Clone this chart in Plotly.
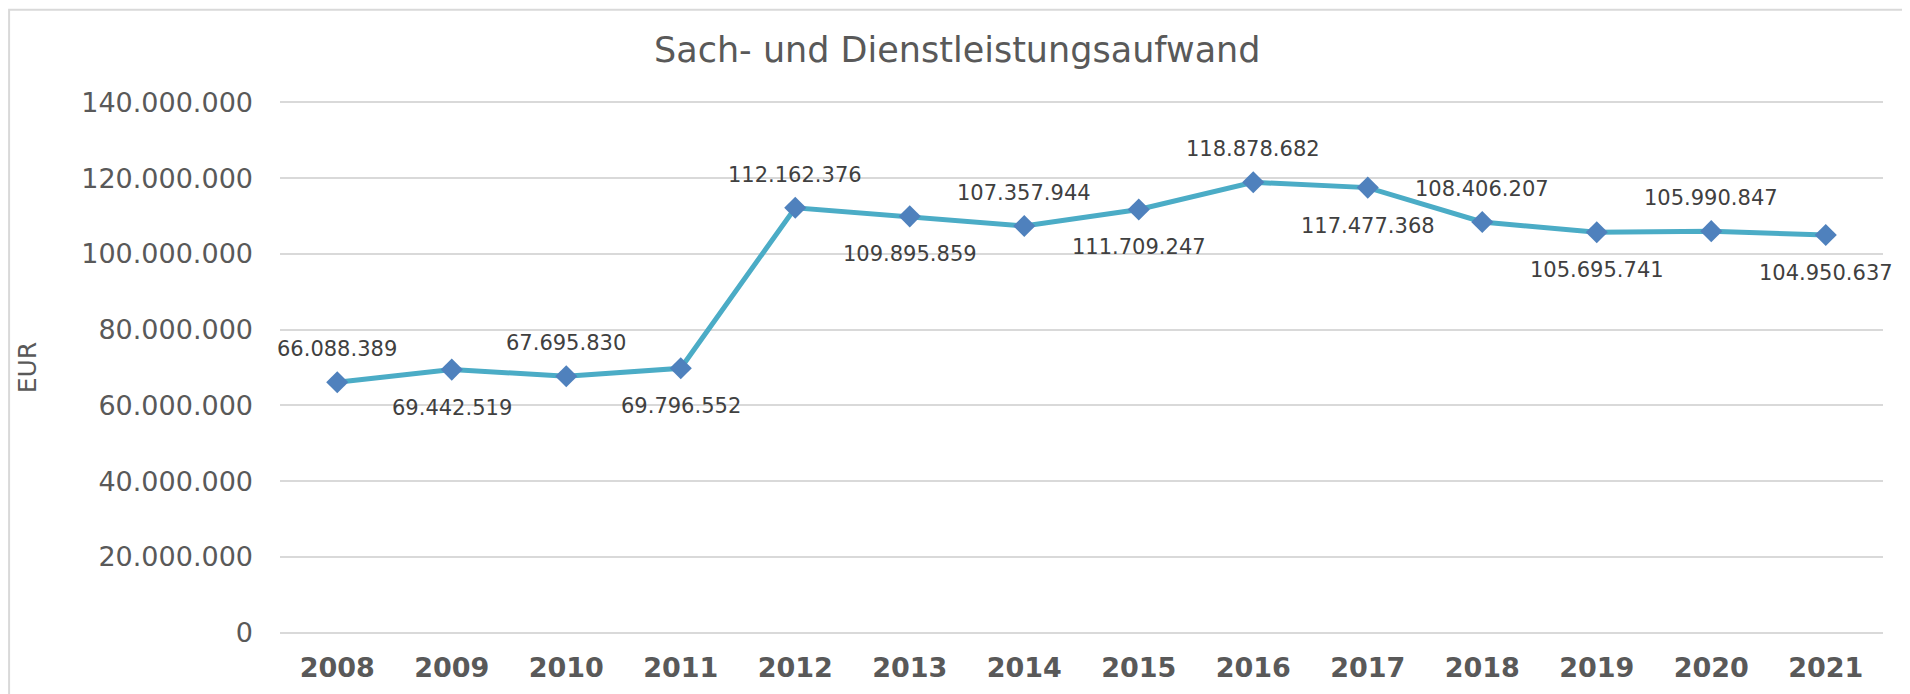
import plotly.graph_objects as go

years = ["2008", "2009", "2010", "2011", "2012", "2013", "2014",
         "2015", "2016", "2017", "2018", "2019", "2020", "2021"]
aufwand = [66088389, 69442519, 67695830, 69796552, 112162376, 109895859,
           107357944, 111709247, 118878682, 117477368, 108406207,
           105695741, 105990847, 104950637]
# label above (1) or below (-1) the point, as in the original
label_side = [1, -1, 1, -1, 1, -1, 1, -1, 1, -1, 1, -1, 1, -1]
y_ticks = [0, 20000000, 40000000, 60000000, 80000000, 100000000,
           120000000, 140000000]

GREY = "#595959"
FONT = "DejaVu Sans"


def fmt_de(v):
    """Format an int with dots as thousands separator (German style)."""
    return f"{v:,}".replace(",", ".")


fig = go.Figure()
fig.add_trace(go.Scatter(
    x=years, y=aufwand, mode="lines+markers",
    line=dict(color="#4BACC6", width=5),
    marker=dict(symbol="diamond", size=17, color="#4F81BD"),
    cliponaxis=False, showlegend=False,
))

# data labels, alternating above / below the markers
# (x given as category index, numeric-looking strings would be cast)
for i, (val, side) in enumerate(zip(aufwand, label_side)):
    fig.add_annotation(
        x=i, y=val, text=fmt_de(val), showarrow=False,
        yshift=33 if side > 0 else -38,
        font=dict(family=FONT, size=21, color="#404040"),
    )

# light frame round the chart (left and top edges visible)
fig.add_shape(type="rect", xref="paper", yref="paper",
              x0=-0.169, x1=1.2, y0=-0.3, y1=1.1685,
              line=dict(color="#D9D9D9", width=2), layer="below")

fig.update_layout(
    width=1910, height=694,
    margin=dict(l=272, r=35, t=92, b=67),
    paper_bgcolor="white", plot_bgcolor="white",
    title=dict(text="Sach- und Dienstleistungsaufwand", x=0.497,
               xanchor="center", y=0.94, yanchor="middle",
               font=dict(family=FONT, size=35, color=GREY)),
)
fig.update_xaxes(
    type="category", range=[-0.5, 13.5], showgrid=False, showline=False,
    ticks="", ticklabelstandoff=14,
    tickfont=dict(family=FONT, size=27, color=GREY, weight="bold"),
)
# range padded a little so the 0 and 140 Mio gridlines are not clipped
fig.update_yaxes(
    range=[-600000, 140600000], tickvals=y_ticks,
    ticktext=[fmt_de(v) for v in y_ticks],
    showgrid=True, gridcolor="#D9D9D9", gridwidth=2, zeroline=False,
    ticklabelstandoff=26,
    tickfont=dict(family=FONT, size=27, color=GREY),
    title=dict(text="EUR", standoff=37,
               font=dict(family=FONT, size=25, color=GREY)),
)

fig.write_html("out.html")
